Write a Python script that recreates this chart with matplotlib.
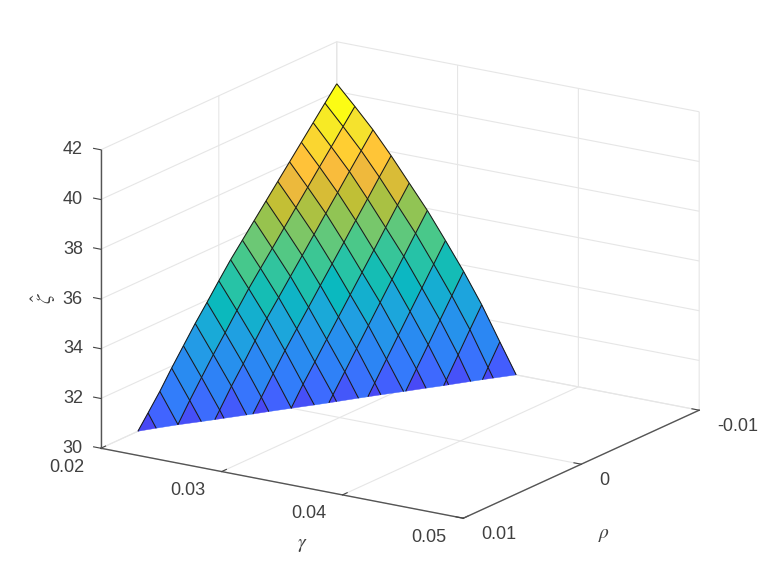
"""Surface zeta-hat over (gamma, rho), 21 x 21 grid, cut off at the z floor."""
import matplotlib
matplotlib.use("Agg")
import matplotlib.pyplot as plt
from matplotlib.colors import LinearSegmentedColormap
from mpl_toolkits.mplot3d import proj3d
from mpl_toolkits.mplot3d.art3d import Line3DCollection, Poly3DCollection

plt.rcParams["font.family"] = ["Liberation Sans", "DejaVu Sans"]
plt.rcParams["mathtext.fontset"] = "stix"

gamma_step = 0.0015
rho_step = 0.001
gamma_start = 0.02
rho_start = -0.01

# one row per gamma, values along rho from -0.01 upward
# rows stop once the surface is well under the z floor
zeta_rows = [
    [40.31, 39.75, 39.18, 38.61, 38.04, 37.47, 36.90, 36.33, 35.76, 35.19,
     34.56, 33.91, 33.28, 32.60, 31.92, 31.20, 30.55, 29.91, 29.26],
    [39.54, 38.95, 38.35, 37.76, 37.16, 36.56, 35.96, 35.36, 34.77, 34.17,
     33.51, 32.83, 32.17, 31.47, 30.76, 30.01, 29.33, 28.66],
    [38.74, 38.12, 37.50, 36.87, 36.25, 35.62, 34.99, 34.37, 33.74, 33.12,
     32.43, 31.72, 31.04, 30.30, 29.57, 28.79, 28.00],
    [37.84, 37.20, 36.54, 35.89, 35.23, 34.58, 33.93, 33.27, 32.62, 31.96,
     31.25, 30.52, 29.80, 29.04, 28.30],
    [36.88, 36.21, 35.53, 34.84, 34.16, 33.48, 32.80, 32.12, 31.43, 30.75,
     30.01, 29.25, 28.50],
    [35.92, 35.22, 34.51, 33.80, 33.09, 32.38, 31.67, 30.96, 30.25, 29.54,
     28.77, 28.00],
    [34.85, 34.12, 33.38, 32.65, 31.91, 31.17, 30.43, 29.69, 28.96, 28.20],
    [33.75, 32.99, 32.23, 31.46, 30.70, 29.93, 29.16, 28.40],
    [32.55, 31.77, 30.97, 30.18, 29.38, 28.60],
    [31.20, 30.39, 29.57, 28.74, 27.90],
    [29.87, 29.03, 28.20],
]

gamma_ticks = [0.02, 0.03, 0.04, 0.05]
gamma_labels = ["0.02", "0.03", "0.04", "0.05"]
rho_ticks = [0.01, 0, -0.01]
rho_labels = ["0.01", "0", "-0.01"]
zeta_ticks = [30, 32, 34, 36, 38, 40, 42]
zeta_labels = ["30", "32", "34", "36", "38", "40", "42"]

z_floor = 30
z_top = 42

# colour against mean height of a cell, picked from the facets
color_z = [29.6, 30.27, 30.97, 31.75, 32.38, 33.05, 33.7, 34.36, 34.97, 35.6,
           36.2, 36.8, 37.35, 37.8, 38.2, 38.84, 39.6]
color_rgb = ["#4848f5", "#4164ff", "#327dfa", "#288cf0", "#239be6", "#19aad7",
             "#0ab9be", "#28c3a5", "#46c88c", "#6ec873", "#9bc34b", "#c8be32",
             "#eeb93c", "#ffbe3c", "#ffcd32", "#f5e12d", "#fcfc14"]


def clip_poly(pts):
    """Keep the part of a polygon above the z floor."""
    out = []
    for k, p in enumerate(pts):
        q = pts[(k + 1) % len(pts)]
        if p[2] >= z_floor:
            out.append(p)
        if (p[2] >= z_floor) != (q[2] >= z_floor):
            t = (z_floor - p[2]) / (q[2] - p[2])
            out.append((p[0] + t * (q[0] - p[0]), p[1] + t * (q[1] - p[1]), z_floor))
    return out


def node(i, j):
    return (gamma_start + i * gamma_step, rho_start + j * rho_step, zeta_rows[i][j])


def has_node(i, j):
    return i < len(zeta_rows) and j < len(zeta_rows[i])


def main():
    span = [color_z[0], color_z[-1]]
    cmap = LinearSegmentedColormap.from_list(
        "facets",
        [((z - span[0]) / (span[1] - span[0]), c) for z, c in zip(color_z, color_rgb)],
    )

    fig = plt.figure(figsize=(7.74, 5.8), dpi=100)
    side = 667
    ax = fig.add_axes([57.5 / 774, -42.5 / 580, side / 774, side / 580], projection="3d")
    ax.set_proj_type("ortho")
    ax.view_init(elev=17.3, azim=-57)
    ax.set_box_aspect((432, 433, 312.5))
    ax.computed_zorder = False

    faces, colors, segs = [], [], []
    for i in range(len(zeta_rows)):
        for j in range(len(zeta_rows[i])):
            if has_node(i + 1, j) and has_node(i, j + 1) and has_node(i + 1, j + 1):
                corners = [node(i, j), node(i + 1, j), node(i + 1, j + 1), node(i, j + 1)]
                poly = clip_poly(corners)
                if poly:
                    mean_z = sum(c[2] for c in corners) / 4
                    faces.append(poly)
                    colors.append(cmap((mean_z - span[0]) / (span[1] - span[0])))
            for a, b in ((i + 1, j), (i, j + 1)):
                if has_node(a, b):
                    line = clip_poly([node(i, j), node(a, b)])
                    if len(line) >= 2:
                        segs.append(line[:2])

    surf = Poly3DCollection(faces, facecolors=colors, edgecolors=colors, linewidths=0.3, zorder=2)
    ax.add_collection3d(surf, autolim=False)
    mesh = Line3DCollection(segs, colors="#1a1a1a", linewidths=0.75, zorder=3)
    ax.add_collection3d(mesh, autolim=False)

    ax.set_xlim(0.02, 0.05, view_margin=0)
    ax.set_ylim(0.01, -0.01, view_margin=0)
    ax.set_zlim(z_floor, z_top, view_margin=0)

    ax.set_xticks(gamma_ticks)
    ax.set_yticks(rho_ticks)
    ax.set_zticks(zeta_ticks)
    ax.set_xticklabels([""] * len(gamma_ticks))
    ax.set_yticklabels([""] * len(rho_ticks))
    ax.set_zticklabels([""] * len(zeta_ticks))
    ax.zaxis.set_ticks_position("upper")

    for axis in (ax.xaxis, ax.yaxis, ax.zaxis):
        axis.set_pane_color((1, 1, 1, 0))
        axis.pane.set_edgecolor((1, 1, 1, 0))
        axis.line.set_color("#555555")
        axis.line.set_linewidth(1.0)
        axis._axinfo["grid"].update(color="#e6e6e6", linewidth=0.8)
        axis._axinfo["tick"].update(inward_factor=0, outward_factor=0.25)
    ax.tick_params(colors="#444444", width=0.8)

    # tick labels sit at fixed pixel offsets from the projected tick
    M = ax.get_proj()

    def put(x, y, z, text, dx, dy, **kw):
        px, py, _ = proj3d.proj_transform(x, y, z, M)
        ax.annotate(text, xy=(px, py), xytext=(dx, -dy), textcoords="offset pixels",
                    va="center", annotation_clip=False, **kw)

    for g, s in zip(gamma_ticks, gamma_labels):
        put(g, 0.01, z_floor, s, -34, 19, ha="center", fontsize=13, color="#404040")
    for r, s in zip(rho_ticks, rho_labels):
        put(0.05, r, z_floor, s, 18, 16, ha="left", fontsize=13, color="#404040")
    for z, s in zip(zeta_ticks, zeta_labels):
        put(0.02, 0.01, z, s, -18, 0, ha="right", fontsize=13, color="#404040")

    fig.text(302 / 774, 1 - 545 / 580, r"$\gamma$", ha="center", va="center",
             fontsize=14, color="#404040")
    fig.text(604 / 774, 1 - 535 / 580, r"$\rho$", ha="center", va="center",
             fontsize=14, color="#404040")
    fig.text(44 / 774, 1 - 298 / 580, r"$\hat{\zeta}$", ha="center", va="center",
             rotation=90, fontsize=15, color="#404040")

    fig.savefig("out.png", dpi=100)
    plt.close(fig)


if __name__ == "__main__":
    main()
